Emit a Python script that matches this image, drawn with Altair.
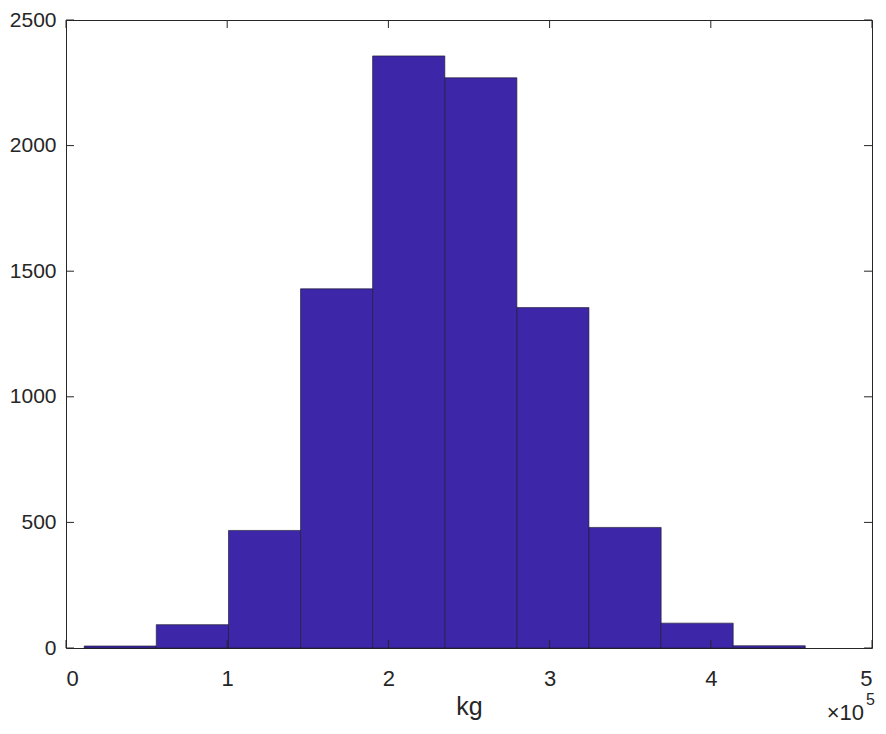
import altair as alt
import pandas as pd

# Histogram bin edges (kg) and counts
bin_edges = [11300, 56000, 100800, 145500, 190200, 235000, 279700, 324400, 369200, 413900, 458600]
counts = [8, 93, 468, 1430, 2357, 2270, 1355, 480, 99, 9]

x_ticks = [0, 100000, 200000, 300000, 400000, 500000]
y_ticks = [0, 500, 1000, 1500, 2000, 2500]

W, H = 806, 628
AX = "#262626"
FONT = "Liberation Sans"

bars = pd.DataFrame({
    "bin_start": bin_edges[:-1],
    "bin_end": bin_edges[1:],
    "count": counts,
})
xt = pd.DataFrame({"v": x_ticks})
yt = pd.DataFrame({"c": y_ticks})

xscale = alt.Scale(domain=[0, 500000], nice=False, zero=False)
yscale = alt.Scale(domain=[0, 2500], nice=False)

x_axis = alt.Axis(
    values=x_ticks, labelExpr="datum.value / 100000", title="kg",
    ticks=False, tickSize=0, domain=False, grid=False,
    labelFont=FONT, labelFontSize=22, labelColor=AX,
    labelBaseline="alphabetic", labelPadding=37,
    titleFont=FONT, titleFontSize=25, titleFontWeight="normal", titleColor=AX,
    titleBaseline="alphabetic", titleX=W / 2, titleY=66, titleAnchor="middle",
)
y_axis = alt.Axis(
    values=y_ticks, title=None, format="d",
    ticks=False, tickSize=0, domain=False, grid=False,
    labelFont=FONT, labelFontSize=21, labelColor=AX,
    labelBaseline="middle", labelPadding=10,
)

hist = alt.Chart(bars).mark_rect(
    fill="#3E26A8", stroke="#1a1a2e", strokeWidth=0.8, strokeOpacity=0.8
).encode(
    x=alt.X("bin_start:Q", scale=xscale, axis=x_axis),
    x2="bin_end:Q",
    y=alt.Y("count:Q", scale=yscale, axis=y_axis),
    y2=alt.datum(0),
)

tick_bottom = alt.Chart(xt).mark_rule(color=AX, strokeWidth=1).encode(
    x=alt.X("v:Q", scale=xscale, axis=x_axis), y=alt.value(H), y2=alt.value(H - 8)
)
tick_top = alt.Chart(xt).mark_rule(color=AX, strokeWidth=1).encode(
    x=alt.X("v:Q", scale=xscale, axis=x_axis), y=alt.value(0), y2=alt.value(8)
)
tick_left = alt.Chart(yt).mark_rule(color=AX, strokeWidth=1).encode(
    y=alt.Y("c:Q", scale=yscale, axis=y_axis), x=alt.value(0), x2=alt.value(8)
)
tick_right = alt.Chart(yt).mark_rule(color=AX, strokeWidth=1).encode(
    y=alt.Y("c:Q", scale=yscale, axis=y_axis), x=alt.value(W), x2=alt.value(W - 8)
)

mult = alt.Chart(pd.DataFrame({"t": ["×10"]})).mark_text(
    font=FONT, fontSize=22, color=AX, align="right", baseline="alphabetic"
).encode(text="t:N", x=alt.value(W - 8), y=alt.value(H + 72))
expo = alt.Chart(pd.DataFrame({"t": ["5"]})).mark_text(
    font=FONT, fontSize=16, color=AX, align="left", baseline="alphabetic"
).encode(text="t:N", x=alt.value(W - 6), y=alt.value(H + 57))

chart = alt.layer(
    hist, tick_bottom, tick_top, tick_left, tick_right, mult, expo
).properties(
    width=W, height=H,
    autosize=alt.AutoSizeParams(type="none"),
    padding={"left": 58, "top": 12, "right": 6, "bottom": 78},
    background="white",
).configure_view(stroke=AX, strokeWidth=1)

chart.save("out.html", embed_options={"renderer": "svg", "actions": False})
